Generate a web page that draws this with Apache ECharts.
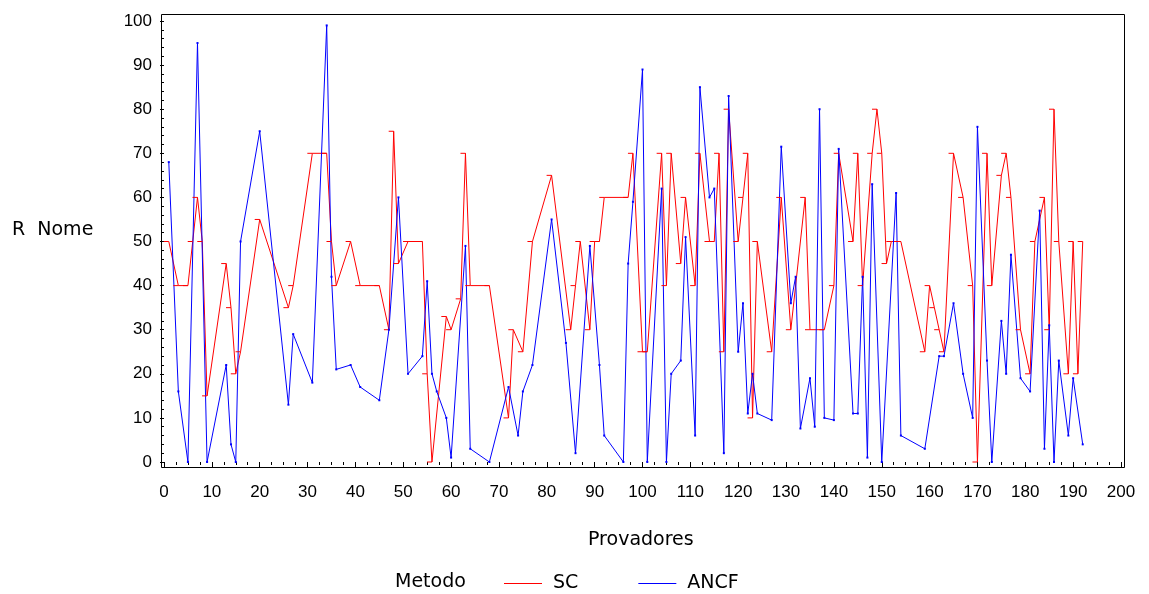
<!DOCTYPE html>
<html>
<head>
<meta charset="utf-8">
<script src="https://cdn.jsdelivr.net/npm/echarts@6/dist/echarts.min.js"></script>
<style>
  html, body { margin: 0; padding: 0; background: #fff; }
  #main { width: 1149px; height: 594px; }
</style>
</head>
<body>
<div id="main"></div>
<script>
// valores (Provador, R Nome)
const scX = [1, 3, 5, 6, 7, 8, 9, 13, 14, 15, 16, 20, 26, 27, 31, 34, 35, 36, 39,
  41, 45, 47, 48, 49, 51, 54, 55, 56, 59, 60, 62, 63, 64, 68, 72, 73, 75, 77, 81,
  85, 86, 87, 89, 90, 91, 92, 97, 98, 100, 101, 104, 105, 106, 108, 109,
  111, 112, 114, 115, 116, 117, 118, 120, 121, 122, 123, 124, 127, 129, 131, 134, 135, 138,
  140, 141, 144, 145, 146, 148, 149, 150, 151, 152, 154, 159, 160, 161, 162, 163,
  165, 167, 169, 170, 172, 173, 175, 176, 177, 179, 181, 182, 184, 185, 186, 187,
  189, 190, 191, 192];
const scY = [50, 40, 40, 50, 60, 50, 15, 45, 35, 20, 25, 55, 35, 40, 70, 70, 50, 40, 50,
  40, 40, 30, 75, 45, 50, 50, 20, 0, 33, 30, 37, 70, 40, 40, 10, 30, 25, 50, 65,
  30, 40, 50, 30, 50, 50, 60, 60, 70, 25, 25, 70, 40, 70, 45, 60,
  40, 70, 50, 50, 70, 25, 80, 50, 60, 70, 10, 50, 25, 60, 30, 60, 30, 30,
  40, 70, 50, 70, 40, 70, 80, 70, 45, 50, 50, 25, 40, 35, 30, 25,
  70, 60, 40, 0, 70, 40, 65, 70, 60, 30, 20, 50, 60, 30, 80, 50,
  20, 50, 20, 50];

const ancfX = [1, 3, 5, 7, 9, 13, 14, 15, 16, 20,
  26, 27, 31, 34, 35, 36, 39, 41, 45, 47,
  49, 51, 54, 55, 56, 57, 59, 60, 63, 64,
  68, 72, 74, 75, 77, 81, 84, 86, 89, 91,
  92, 96, 97, 98, 100, 101, 104, 105, 106, 108,
  109, 111, 112, 114, 115, 117, 118, 120, 121, 122,
  123, 124, 127, 129, 131, 132, 133, 135, 136, 137,
  138, 140, 141, 144, 145, 146, 147, 148, 150, 153,
  154, 159, 162, 163, 165, 167, 169, 170, 172, 173,
  175, 176, 177, 179, 181, 183, 184, 185, 186, 187,
  189, 190, 192];
const ancfY = [68, 16, 0, 95, 0, 22, 4, 0, 50, 75,
  13, 29, 18, 99, 42, 21, 22, 17, 14, 30,
  60, 20, 24, 41, 20, 16, 10, 1, 49, 3,
  0, 17, 6, 16, 22, 55, 27, 2, 49, 22,
  6, 0, 45, 59, 89, 0, 62, 0, 20, 23,
  51, 6, 85, 60, 62, 2, 83, 25, 36, 11,
  20, 11, 9.5, 71.5, 36, 42, 7.6, 19, 8, 80,
  10, 9.5, 71, 11, 11, 42, 1, 63, 0, 61,
  6, 3, 24, 24, 36, 20, 10, 76, 23, 0,
  32, 20, 47, 19, 16, 57, 3, 31, 0, 23,
  6, 19, 4];

const metodos = ['SC', 'ANCF'];
const xTicks = { min: 0, max: 200, step: 10 };
const yTicks = { min: 0, max: 100, step: 10 };

const chart = echarts.init(document.getElementById('main'));
const tickFont = { fontFamily: 'Liberation Sans, Arial, sans-serif', fontSize: 17, color: '#000' };
const titleFont = { fontFamily: 'DejaVu Sans, sans-serif', fontSize: 19, fill: '#000' };

const option = {
  animation: false,
  backgroundColor: '#fff',
  grid: { left: 164, right: 28, top: 21, bottom: 132 },
  xAxis: {
    type: 'value',
    min: xTicks.min, max: xTicks.max, interval: xTicks.step,
    offset: 6,
    axisLine: { show: false },
    axisTick: { show: true, length: 5, lineStyle: { color: '#000' } },
    minorTick: { show: true, splitNumber: 4, length: 3, lineStyle: { color: '#000' } },
    splitLine: { show: false },
    axisLabel: Object.assign({ margin: 16 }, tickFont)
  },
  yAxis: {
    type: 'value',
    min: yTicks.min, max: yTicks.max, interval: yTicks.step,
    offset: 3,
    axisLine: { show: false },
    axisTick: { show: true, length: 4, lineStyle: { color: '#000' } },
    minorTick: { show: true, splitNumber: 5, length: 2, lineStyle: { color: '#000' } },
    splitLine: { show: false },
    axisLabel: Object.assign({ margin: 9 }, tickFont)
  },
  legend: {
    data: metodos,
    left: 499, top: 569,
    icon: 'rect',
    itemWidth: 38, itemHeight: 1,
    itemGap: 60,
    textStyle: { fontFamily: 'DejaVu Sans, sans-serif', fontSize: 19, color: '#000', padding: [0, 0, 0, 6] }
  },
  graphic: [
    {
      type: 'rect', silent: true,
      shape: { x: 161.5, y: 14.5, width: 963, height: 453 },
      style: { fill: 'none', stroke: '#000', lineWidth: 1 }
    },
    { type: 'text', left: 12, top: 221, style: Object.assign({ text: 'R  Nome' }, titleFont) },
    { type: 'text', left: 588, top: 531, style: Object.assign({ text: 'Provadores' }, titleFont) },
    { type: 'text', left: 395, top: 573, style: Object.assign({ text: 'Metodo' }, titleFont) }
  ],
  series: [
    {
      name: 'SC', type: 'line',
      data: scX.map((x, i) => [x, scY[i]]),
      color: '#ff0000',
      lineStyle: { width: 1, color: '#ff0000' },
      symbol: 'rect', symbolSize: [5, 1], symbolOffset: [-2.5, 0],
      showAllSymbol: true,
      itemStyle: { color: '#ff0000' }
    },
    {
      name: 'ANCF', type: 'line',
      data: ancfX.map((x, i) => [x, ancfY[i]]),
      color: '#0000ff',
      lineStyle: { width: 1, color: '#0000ff' },
      symbol: 'rect', symbolSize: [2, 2],
      showAllSymbol: true,
      itemStyle: { color: '#0000ff' }
    }
  ]
};
chart.setOption(option);
</script>
</body>
</html>
